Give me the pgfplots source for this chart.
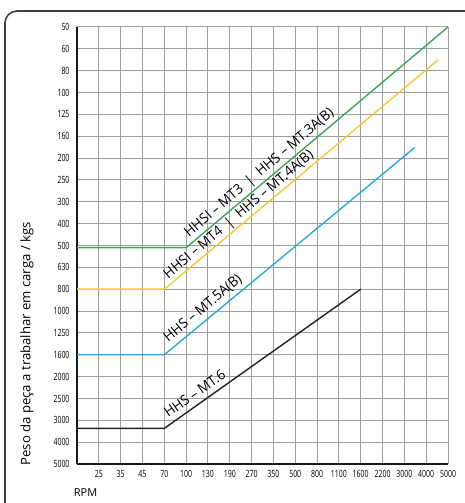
\documentclass[border=0pt]{standalone}
\usepackage{fontspec}
\setmainfont{Open Sans}
\newfontfamily\condfont[FakeStretch=0.7]{Open Sans}
\newfontfamily\labfont[FakeStretch=0.97]{Open Sans}
\usepackage{pgfplots}
\pgfplotsset{compat=1.18}
\definecolor{cgreen}{HTML}{3AA65A}
\definecolor{cyellow}{HTML}{F2C935}
\definecolor{cblue}{HTML}{2AA6E0}
\definecolor{cblack}{HTML}{222222}
\definecolor{gridgray}{HTML}{9E9E9E}
\begin{document}
\begin{tikzpicture}[x=1bp,y=1bp]
\useasboundingbox (0,0) rectangle (465,503);
\draw[line width=1.6bp, color=black!75, rounded corners=12bp] (5,-30) -- (5,492) -- (500,492);
\begin{axis}[
  at={(77bp,39bp)}, anchor=south west,
  scale only axis, width=371bp, height=437bp,
  xmin=0, xmax=17, ymin=0, ymax=20,
  xtick={1,...,17},
  xticklabels={25,35,45,70,100,130,190,270,350,500,800,1100,1600,2200,3000,4000,5000},
  ytick={0,...,20},
  yticklabels={5000,4000,3000,2500,2000,1600,1250,1000,800,630,500,400,300,250,200,160,125,100,80,60,50},
  grid=major,
  major grid style={color=gridgray, line width=1bp},
  axis x line*=bottom, axis y line*=left,
  axis line style={line width=1.5bp, color=black!90, -},
  major tick length=0pt,
  ticklabel style={font=\condfont\fontsize{10}{10}\selectfont, color=black},
  xticklabel style={yshift=-3bp},
  yticklabel style={xshift=-4bp},
  xlabel={RPM},
  xlabel style={at={(axis description cs:0.023,-0.066)}, anchor=center, font=\fontsize{11}{11}\selectfont},
  ylabel={Peso da peça a trabalhar em carga / kgs},
  ylabel style={at={(axis description cs:-0.135,0.275)}, anchor=center, font=\fontsize{13.2}{13.2}\selectfont},
  clip=false,
]
\addplot[cgreen, line width=1.4bp] coordinates {(0,9.9) (5,9.9) (17,20)};
\addplot[cyellow, line width=1.4bp] coordinates {(0,8) (4,8) (16.55,18.5)};
\addplot[cblue, line width=1.4bp] coordinates {(0,5) (4,5) (15.47,14.48)};
\addplot[cblack, line width=1.4bp] coordinates {(0,1.63) (4,1.63) (13,8)};
\node[anchor=base west, rotate=40.3, inner sep=0pt, font=\labfont\fontsize{14}{14}\selectfont] at (axis cs:5.13,10.35) {HHSI – MT3 \ | \ HHS – MT.3A(B)};
\node[anchor=base west, rotate=40.1, inner sep=0pt, font=\labfont\fontsize{14}{14}\selectfont] at (axis cs:4.18,8.45) {HHSI – MT4 \ | \ HHS – MT.4A(B)};
\node[anchor=base west, rotate=39.7, inner sep=0pt, font=\labfont\fontsize{14}{14}\selectfont] at (axis cs:4.18,5.55) {HHS – MT.5A(B)};
\node[anchor=base west, rotate=35.3, inner sep=0pt, font=\labfont\fontsize{14}{14}\selectfont] at (axis cs:4.18,2.10) {HHS – MT.6};
\end{axis}
\end{tikzpicture}
\end{document}
